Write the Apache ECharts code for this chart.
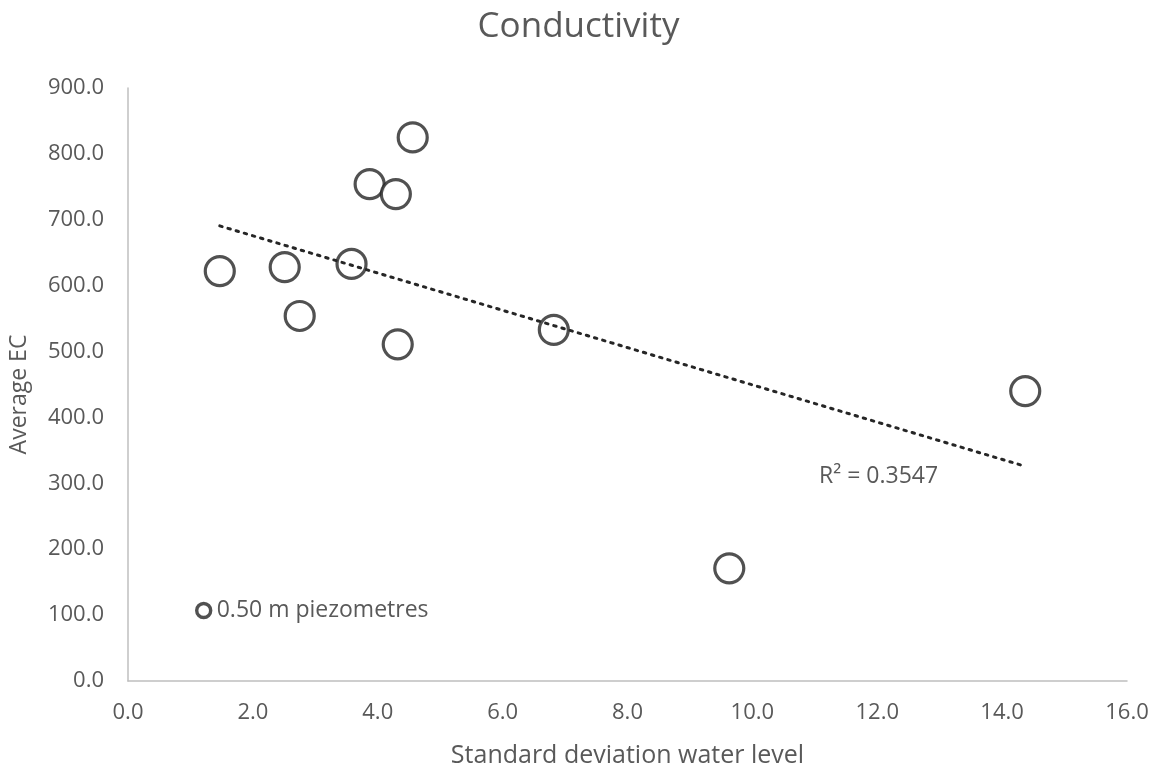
<!DOCTYPE html>
<html>
<head>
<meta charset="utf-8">
<script src="https://cdn.jsdelivr.net/npm/echarts@6/dist/echarts.min.js"></script>
<style>
  html, body { margin: 0; padding: 0; background: #fff; }
  #chart { width: 1157px; height: 774px; }
</style>
</head>
<body>
<div id="chart"></div>
<script>
// Standard deviation of water level (m) per piezometre
const stdDevWaterLevel = [1.47, 2.51, 2.75, 3.58, 3.87, 4.29, 4.32, 4.56, 6.82, 9.63, 14.37];
// Average electrical conductivity per piezometre
const averageEC = [622, 628, 554, 633, 754, 739, 511, 825, 533, 171, 440];
const seriesName = '0.50 m piezometres';
const rSquaredLabel = 'R\u00B2 = 0.3547';

// Least-squares linear trend through the points
const n = stdDevWaterLevel.length;
const mx = stdDevWaterLevel.reduce((a, b) => a + b, 0) / n;
const my = averageEC.reduce((a, b) => a + b, 0) / n;
let sxy = 0, sxx = 0;
for (let i = 0; i < n; i++) {
  sxy += (stdDevWaterLevel[i] - mx) * (averageEC[i] - my);
  sxx += (stdDevWaterLevel[i] - mx) ** 2;
}
const slope = sxy / sxx;
const intercept = my - slope * mx;
const xMin = Math.min(...stdDevWaterLevel);
const xMax = Math.max(...stdDevWaterLevel);
const trend = [[xMin, intercept + slope * xMin], [xMax, intercept + slope * xMax]];

const font = '"Open Sans", sans-serif';
const grey = '#595959';
const dark = '#262626';

const chart = echarts.init(document.getElementById('chart'), null, { renderer: 'canvas' });
chart.setOption({
  animation: false,
  backgroundColor: '#ffffff',
  textStyle: { fontFamily: font },
  title: {
    text: 'Conductivity',
    left: 'center',
    top: 5,
    textStyle: { fontFamily: font, fontSize: 35, fontWeight: 'normal', color: grey }
  },
  grid: { left: 128, right: 30, top: 88, bottom: 93, containLabel: false },
  legend: {
    left: 190,
    top: 594,
    itemWidth: 14,
    itemHeight: 14,
    itemGap: 4,
    data: [{ name: seriesName, icon: 'circle', itemStyle: { color: '#ffffff', borderColor: dark, borderWidth: 3.4 } }],
    textStyle: { fontFamily: font, fontSize: 23, color: grey, padding: [0, 0, 0, 1] }
  },
  xAxis: {
    type: 'value',
    min: 0, max: 16, interval: 2,
    name: 'Standard deviation water level',
    nameLocation: 'middle',
    nameGap: 62,
    nameTextStyle: { fontFamily: font, fontSize: 25, color: grey },
    axisLine: { show: true, lineStyle: { color: '#bfbfbf', width: 1.5 } },
    axisTick: { show: false },
    splitLine: { show: false },
    axisLabel: { fontFamily: font, fontSize: 22, color: grey, margin: 21, formatter: v => v.toFixed(1) }
  },
  yAxis: {
    type: 'value',
    min: 0, max: 900, interval: 100,
    name: 'Average EC',
    nameLocation: 'middle',
    nameGap: 97,
    nameTextStyle: { fontFamily: font, fontSize: 23, color: grey, padding: [0, 20, 0, 0] },
    axisLine: { show: true, lineStyle: { color: '#bfbfbf', width: 1.5 } },
    axisTick: { show: false },
    splitLine: { show: false },
    axisLabel: { fontFamily: font, fontSize: 22, color: grey, margin: 24, formatter: v => v.toFixed(1) }
  },
  series: [
    {
      name: seriesName,
      type: 'scatter',
      symbol: 'circle',
      symbolSize: 29,
      data: stdDevWaterLevel.map((x, i) => [x, averageEC[i]]),
      itemStyle: { color: '#ffffff', borderColor: dark, borderWidth: 3.2 },
      z: 2
    },
    {
      name: 'trend',
      type: 'line',
      data: trend,
      showSymbol: false,
      symbol: 'none',
      lineStyle: { color: dark, width: 3, type: [2.5, 6], cap: 'round' },
      z: 4
    }
  ],
  graphic: [
    {
      type: 'text',
      left: 819,
      top: 465,
      style: { text: rSquaredLabel, fontFamily: font, fontSize: 23, fill: grey }
    }
  ]
});
</script>
</body>
</html>
